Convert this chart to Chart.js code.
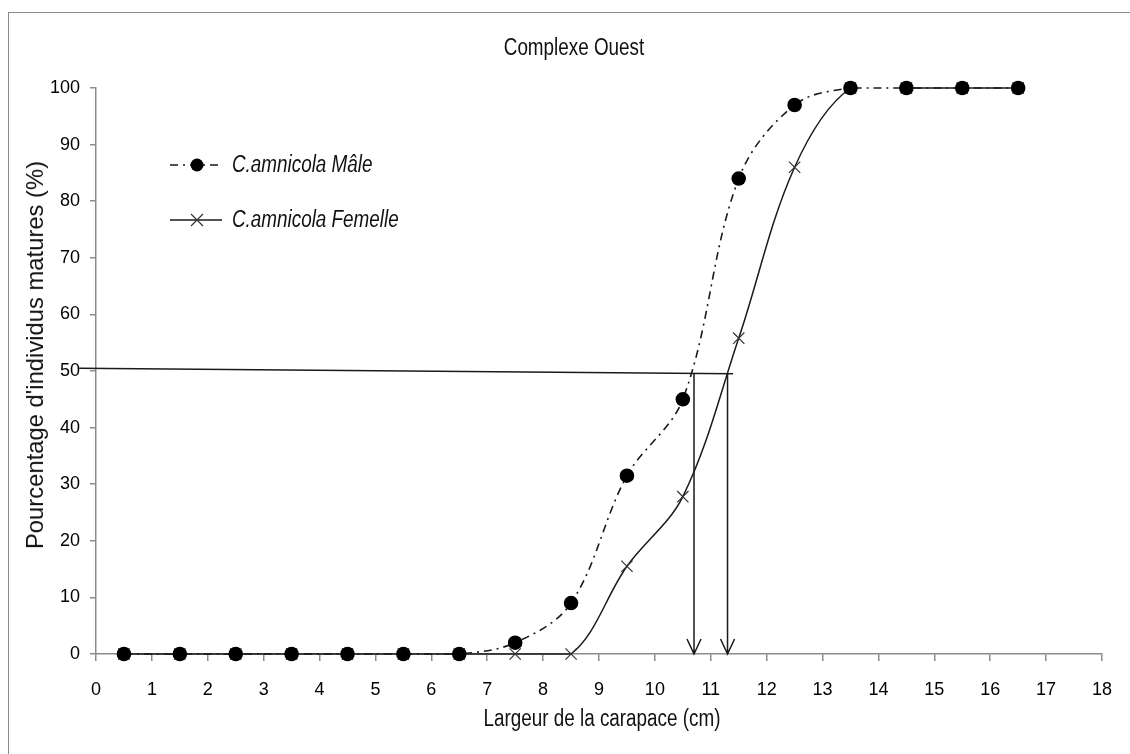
<!DOCTYPE html>
<html>
<head>
<meta charset="utf-8">
<script src="https://cdn.jsdelivr.net/npm/chart.js@4.4.0/dist/chart.umd.min.js"></script>
<style>
    html, body { margin: 0; padding: 0; background: #fff; }
    #wrap { position: relative; width: 1130px; height: 754px; overflow: hidden; }
    #frame { position: absolute; left: 8px; top: 12px; width: 1200px; height: 800px;
             border-left: 1.5px solid #8c8c8c; border-top: 1.5px solid #8c8c8c; }
    #chart { position: absolute; left: 0; top: 0; }
    .narrow { position: absolute; white-space: nowrap; color: #111;
              font: 23px 'Liberation Sans', Arial, sans-serif; }
    #title { left: 574px; top: 47px; transform: translate(-50%, -50%) scaleX(0.82); }
    #xtitle { left: 602px; top: 718px; transform: translate(-50%, -50%) scaleX(0.82); }
    #ytitle { position: absolute; left: 35px; top: 355px; white-space: nowrap; color: #111;
              font: 23.8px 'Liberation Sans', Arial, sans-serif;
              transform: translate(-50%, -50%) rotate(-90deg); }
    #legend { position: absolute; left: 170px; top: 137px; }
    .row { display: flex; align-items: center; height: 55px; }
    .row span { margin-left: 10px; font: italic 23px 'Liberation Sans', Arial, sans-serif; color: #111;
                display: inline-block; transform: scaleX(0.82); transform-origin: left center; white-space: nowrap; }
</style>
</head>
<body>
<div id="wrap">
    <div id="frame"></div>
    <canvas id="chart" width="1130" height="754"></canvas>
    <div id="title" class="narrow">Complexe Ouest</div>
    <div id="xtitle" class="narrow">Largeur de la carapace (cm)</div>
    <div id="ytitle">Pourcentage d'individus matures (%)</div>
    <div id="legend"></div>
</div>
<script>
// data
const sizeClasses = [0.5, 1.5, 2.5, 3.5, 4.5, 5.5, 6.5, 7.5, 8.5, 9.5, 10.5, 11.5, 12.5, 13.5, 14.5, 15.5, 16.5];
const maleMature = [0, 0, 0, 0, 0, 0, 0, 2, 9, 31.5, 45, 84, 97, 100, 100, 100, 100];
const femaleMature = [0, 0, 0, 0, 0, 0, 0, 0, 0, 15.5, 27.8, 55.8, 86, 100, 100, 100, 100];
const seriesNames = ['C.amnicola Mâle', 'C.amnicola Femelle'];

// 50% reading line and the two L50 arrows
const halfLineX = [-0.3, 11.4];
const halfLineY = [50.5, 49.5];
const l50Sizes = [10.7, 11.3];
const l50Top = 49.6;

const axisGray = '#8c8c8c';
const ink = '#1a1a1a';
const tickFont = { family: "'Liberation Sans', Arial, sans-serif", size: 18 };

const toPoints = (vals) => sizeClasses.map((x, i) => ({ x: x, y: vals[i] }));

const guides = {
    id: 'guides',
    afterDatasetsDraw(chart) {
        const { ctx, scales: { x, y } } = chart;
        ctx.save();
        ctx.strokeStyle = ink;
        ctx.lineWidth = 1.5;
        ctx.beginPath();
        ctx.moveTo(x.getPixelForValue(halfLineX[0]), y.getPixelForValue(halfLineY[0]));
        ctx.lineTo(x.getPixelForValue(halfLineX[1]), y.getPixelForValue(halfLineY[1]));
        ctx.stroke();

        l50Sizes.forEach((v) => {
            const px = x.getPixelForValue(v);
            const top = y.getPixelForValue(l50Top);
            const tip = y.getPixelForValue(0);
            ctx.beginPath();
            ctx.moveTo(px, top);
            ctx.lineTo(px, tip);
            ctx.moveTo(px - 7, tip - 15);
            ctx.lineTo(px, tip);
            ctx.lineTo(px + 7, tip - 15);
            ctx.stroke();
        });
        ctx.restore();
    }
};

const chart = new Chart(document.getElementById('chart'), {
    type: 'line',
    data: {
        datasets: [
            {
                label: seriesNames[0],
                data: toPoints(maleMature),
                borderColor: ink,
                borderWidth: 1.6,
                borderDash: [8, 5, 2, 5],
                pointStyle: 'circle',
                pointRadius: 6.5,
                pointBackgroundColor: '#000',
                pointBorderColor: '#000',
                tension: 0.35,
                clip: false
            },
            {
                label: seriesNames[1],
                data: toPoints(femaleMature),
                borderColor: ink,
                borderWidth: 1.5,
                pointStyle: 'crossRot',
                pointRadius: 8,
                pointBorderWidth: 1.2,
                pointBorderColor: '#333',
                tension: 0.35,
                clip: false,
                segment: {
                    // the female line is not drawn between 13.5 and 14.5 in the original
                    borderColor: (c) => c.p0.parsed.x === 13.5 ? 'rgba(0,0,0,0)' : ink
                }
            }
        ]
    },
    options: {
        responsive: false,
        animation: false,
        layout: { padding: { left: 0, top: 88, right: 24, bottom: 0 } },
        plugins: {
            legend: { display: false },
            tooltip: { enabled: false }
        },
        scales: {
            x: {
                type: 'linear',
                min: 0,
                max: 18,
                ticks: { stepSize: 1, color: '#000', font: tickFont, padding: 18, maxRotation: 0 },
                grid: { drawOnChartArea: false, color: axisGray, lineWidth: 1.5, tickLength: 7 },
                border: { color: axisGray, width: 1.5 },
                afterFit(scale) { scale.height = 100; }
            },
            y: {
                min: 0,
                max: 100,
                ticks: { stepSize: 10, color: '#000', font: tickFont, padding: 10 },
                grid: { drawOnChartArea: false, color: axisGray, lineWidth: 1.5, tickLength: 6 },
                border: { color: axisGray, width: 1.5 },
                afterFit(scale) { scale.width = 96; }
            }
        }
    },
    plugins: [guides]
});

// legend placed inside the plot, as in the original
const legendSvg = [
    '<svg width="52" height="20"><line x1="0" y1="10" x2="52" y2="10" stroke="' + ink + '" stroke-width="1.6" stroke-dasharray="8 5 2 5"/><circle cx="27" cy="10" r="6.5" fill="#000"/></svg>',
    '<svg width="52" height="20"><line x1="0" y1="10" x2="52" y2="10" stroke="' + ink + '" stroke-width="1.5"/><path d="M21 4 L33 16 M33 4 L21 16" stroke="#333" stroke-width="1.2"/></svg>'
];
document.getElementById('legend').innerHTML = seriesNames
    .map((name, i) => '<div class="row">' + legendSvg[i] + '<span>' + name + '</span></div>')
    .join('');
</script>
</body>
</html>
